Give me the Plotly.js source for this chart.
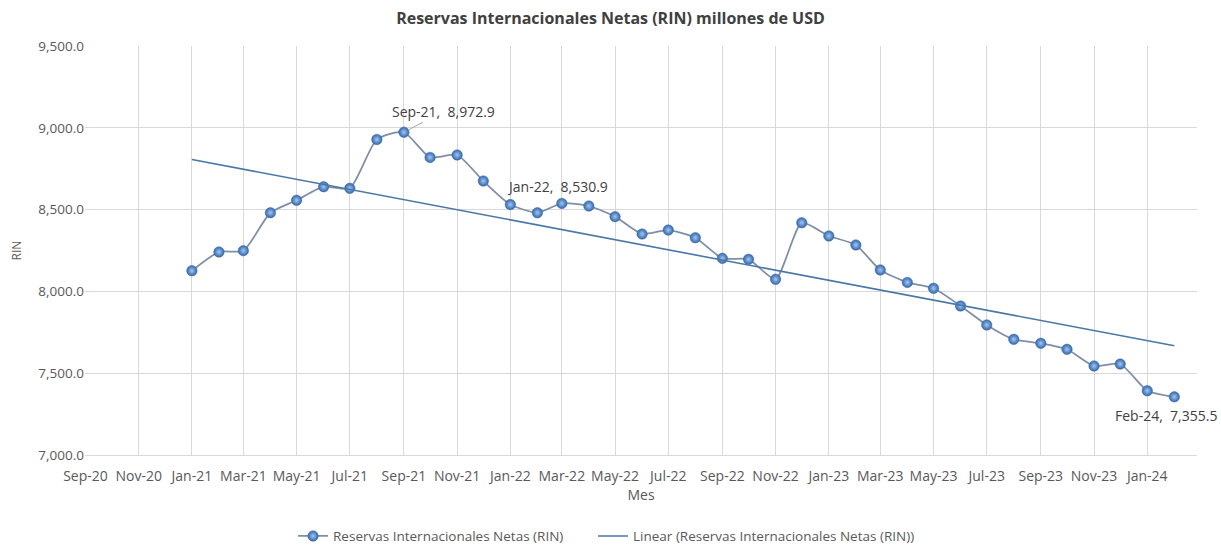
<!DOCTYPE html>
<html>
<head>
<meta charset="utf-8">
<script src="https://cdn.plot.ly/plotly-3.0.1.min.js"></script>
<style>
  html, body { margin: 0; padding: 0; background: #ffffff; }
  #chart { width: 1221px; height: 546px; }
</style>
</head>
<body>
<div id="chart"></div>
<script>
// Months (first day of each month)
const months = [
  '2021-01-01','2021-02-01','2021-03-01','2021-04-01','2021-05-01','2021-06-01',
  '2021-07-01','2021-08-01','2021-09-01','2021-10-01','2021-11-01','2021-12-01',
  '2022-01-01','2022-02-01','2022-03-01','2022-04-01','2022-05-01','2022-06-01',
  '2022-07-01','2022-08-01','2022-09-01','2022-10-01','2022-11-01','2022-12-01',
  '2023-01-01','2023-02-01','2023-03-01','2023-04-01','2023-05-01','2023-06-01',
  '2023-07-01','2023-08-01','2023-09-01','2023-10-01','2023-11-01','2023-12-01',
  '2024-01-01','2024-02-01'
];
// Reservas Internacionales Netas (RIN), millones de USD
const rin = [
  8126.5, 8241.0, 8249.0, 8481.0, 8557.0, 8640.0,
  8630.0, 8929.0, 8972.9, 8819.0, 8834.0, 8675.0,
  8530.9, 8481.0, 8538.0, 8522.0, 8457.0, 8351.0,
  8375.0, 8328.0, 8202.0, 8196.0, 8074.0, 8420.0,
  8339.0, 8284.0, 8131.0, 8055.0, 8019.0, 7911.0,
  7795.0, 7707.0, 7683.0, 7646.0, 7544.0, 7556.0,
  7393.0, 7355.5
];
// Points with data labels
const labeledMonths = ['2021-09-01', '2022-01-01', '2024-02-01'];

const seriesName = 'Reservas Internacionales Netas (RIN)';
const trendName = 'Linear (Reservas Internacionales Netas (RIN))';
const titleText = 'Reservas Internacionales Netas (RIN) millones de USD';

// Linear trend (least squares on date value)
const xs = months.map(m => new Date(m + 'T00:00:00Z').getTime() / 86400000);
const n = xs.length;
const mx = xs.reduce((a, b) => a + b, 0) / n;
const my = rin.reduce((a, b) => a + b, 0) / n;
let sxy = 0, sxx = 0;
for (let i = 0; i < n; i++) { sxy += (xs[i] - mx) * (rin[i] - my); sxx += (xs[i] - mx) ** 2; }
const slope = sxy / sxx;
const icpt = my - slope * mx;
const trendX = [months[0], months[n - 1]];
const trendY = [icpt + slope * xs[0], icpt + slope * xs[n - 1]];

const monAbbr = ['Jan','Feb','Mar','Apr','May','Jun','Jul','Aug','Sep','Oct','Nov','Dec'];
function fmtLabel(m, v) {
  const d = new Date(m + 'T00:00:00Z');
  const lab = monAbbr[d.getUTCMonth()] + '-' + String(d.getUTCFullYear()).slice(2);
  const val = v.toLocaleString('en-US', {minimumFractionDigits: 1, maximumFractionDigits: 1});
  return lab + ',  ' + val;
}

const labelStyle = {
  '2021-09-01': {ax: 40, ay: -21, arrow: true},
  '2022-01-01': {ax: 47, ay: -18, arrow: false},
  '2024-02-01': {ax: -8, ay: 19, arrow: false}
};

const annotations = labeledMonths.map(m => {
  const i = months.indexOf(m);
  const st = labelStyle[m];
  return {
    x: m, y: rin[i], xref: 'x', yref: 'y',
    text: fmtLabel(m, rin[i]),
    showarrow: true, arrowhead: 0, arrowwidth: 1,
    arrowcolor: st.arrow ? '#a6a6a6' : 'rgba(0,0,0,0)',
    ax: st.ax, ay: st.ay, standoff: 5,
    font: {family: 'Open Sans, sans-serif', size: 14, color: '#404040'}
  };
});

const traces = [
  {
    type: 'scatter', mode: 'lines+markers', name: seriesName, legend: 'legend',
    x: months, y: rin,
    line: {color: '#7f8ea6', width: 1.75, shape: 'spline', smoothing: 0.6},
    marker: {size: 10.5, color: '#3166ad',
             gradient: {type: 'radial', color: '#a4c6f0'},
             line: {color: '#3a6cae', width: 0.5}}
  },
  {
    type: 'scatter', mode: 'lines', name: trendName, legend: 'legend2',
    x: trendX, y: trendY,
    line: {color: '#4a77a8', width: 1.6}
  }
];

const legendBase = {
  orientation: 'h', xref: 'container', yref: 'container',
  xanchor: 'left', y: 0.018, yanchor: 'middle',
  font: {size: 13.5, color: '#595959'}, itemwidth: 30,
  bgcolor: 'rgba(0,0,0,0)'
};

const layout = {
  width: 1221, height: 546,
  margin: {l: 85, r: 24, t: 46, b: 91, autoexpand: false},
  paper_bgcolor: '#ffffff', plot_bgcolor: '#ffffff',
  font: {family: 'Open Sans, sans-serif', size: 13, color: '#595959'},
  title: {text: titleText, x: 0.5, xanchor: 'center', y: 0.967, yanchor: 'middle',
          font: {family: 'Open Sans, sans-serif', size: 16, color: '#404040', weight: 'bold'}},
  xaxis: {
    type: 'date',
    range: ['2020-08-31 12:00', '2024-02-27'],
    tick0: '2020-09-01', dtick: 'M2', tickformat: '%b-%y',
    showgrid: true, gridcolor: '#d9d9d9', gridwidth: 1,
    showline: true, linecolor: '#d9d9d9', linewidth: 1,
    ticks: 'outside', ticklen: 8, tickcolor: 'rgba(0,0,0,0)', zeroline: false,
    tickfont: {size: 14, color: '#595959'},
    title: {text: 'Mes', font: {size: 14, color: '#595959'}, standoff: 5}
  },
  yaxis: {
    range: [7000, 9500], dtick: 500, tickformat: ',.1f',
    showgrid: true, gridcolor: '#d9d9d9', gridwidth: 1,
    showline: false, zeroline: false, ticks: '',
    tickfont: {size: 13.5, color: '#595959'},
    title: {text: 'RIN', font: {size: 12, color: '#595959'}, standoff: 14}
  },
  showlegend: true,
  legend: Object.assign({}, legendBase, {x: 0.24}),
  legend2: Object.assign({}, legendBase, {x: 0.4857}),
  annotations: annotations
};

Plotly.newPlot('chart', traces, layout, {displayModeBar: false, responsive: false});
</script>
</body>
</html>
